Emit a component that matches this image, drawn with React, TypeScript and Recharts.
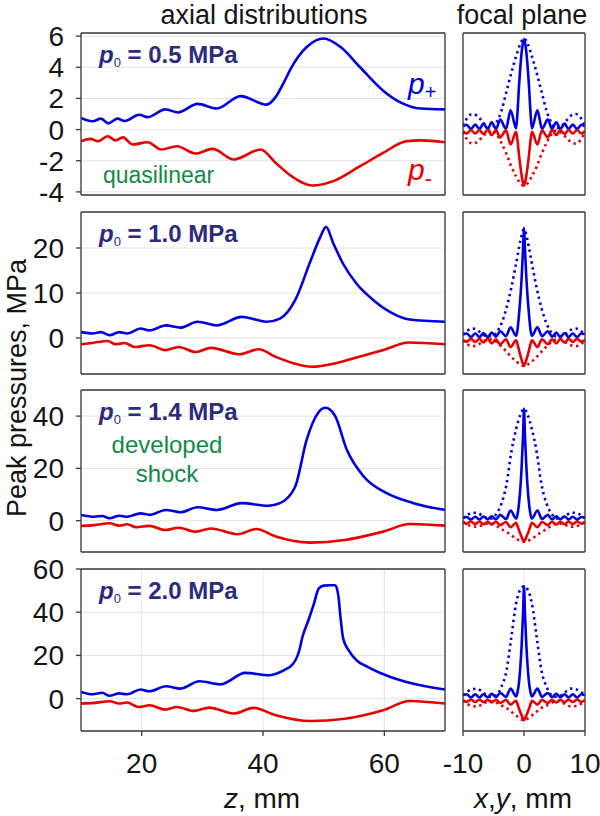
import React from "react";
import { LineChart, Line, XAxis, YAxis, CartesianGrid } from "recharts";

// ---------- labels ----------
const pressureLabels = ["0.5", "1.0", "1.4", "2.0"];
const axialTicks = [20, 40, 60];
const focalTicks = [-10, 0, 10];
const yTicksByRow = [
  [-4, -2, 0, 2, 4, 6],
  [0, 10, 20],
  [0, 20, 40],
  [0, 20, 40, 60],
];
const yDomainByRow: [number, number][] = [
  [-4.2, 6.2],
  [-8, 28],
  [-12, 50],
  [-15, 60],
];

// ---------- axial distributions (z, mm) ----------
const z1Blue = [10, 11.9, 13.3, 14.5, 16, 17.2, 19.6, 21, 23.9, 26, 29.2, 32.4, 36.3, 40.6, 42.1, 43.4, 44.7, 47.2, 50, 52.8, 56, 59.8, 62.9, 66, 70];
const p1Blue = [0.75, 0.53, 0.7, 0.4, 0.7, 0.55, 0.95, 0.8, 1.3, 1.1, 1.65, 1.35, 2.15, 1.6, 2.1, 3.0, 4.0, 5.3, 5.85, 5.3, 4.0, 2.5, 1.7, 1.35, 1.3];
const z1Red = [10, 11.6, 12.8, 14.4, 15.7, 16.9, 18.5, 21, 23.2, 25.8, 28.9, 31.7, 35.2, 39.6, 42.1, 44.7, 48.1, 51.6, 56, 59.8, 63.6, 66.1, 70];
const p1Red = [-0.75, -0.6, -0.75, -0.43, -0.7, -0.5, -0.96, -0.81, -1.28, -1.07, -1.54, -1.24, -1.92, -1.28, -2.14, -2.99, -3.59, -3.31, -2.35, -1.5, -0.75, -0.69, -0.81];

const z2Blue = [10, 11.9, 13.3, 14.7, 16.3, 17.6, 19.8, 21.3, 24, 26.4, 29.2, 32.4, 36.5, 40.6, 42.8, 45.3, 47.8, 49.4, 50.4, 51.6, 53.2, 55.4, 58.2, 60.9, 64.2, 70];
const p2Blue = [1.3, 1.0, 1.3, 0.6, 1.3, 1.0, 2.1, 1.7, 2.8, 2.3, 3.6, 2.8, 4.7, 3.6, 4.3, 8.4, 17.0, 22.3, 24.7, 21.0, 16.5, 12.1, 8.4, 5.8, 4.1, 3.6];
const z2Red = [10, 11.9, 14.4, 15.7, 17.2, 18.8, 21.3, 23.9, 26.1, 28.9, 31.4, 36.1, 39.3, 42.1, 45, 48.1, 52, 56, 60, 64, 70];
const p2Red = [-1.4, -1.1, -0.65, -1.4, -1.1, -2.0, -1.6, -2.7, -2.0, -3.1, -2.2, -3.6, -2.5, -4.2, -5.6, -6.4, -5.6, -4.1, -2.6, -1.0, -1.4];

const z3Blue = [10, 12.2, 13.5, 14.7, 16.3, 17.6, 19.8, 21.3, 24, 26.4, 29.2, 32.4, 36.5, 40.9, 42.8, 45.3, 47.2, 49.1, 50.3, 51.9, 53.8, 56.6, 60.4, 64.8, 70];
const p3Blue = [2.2, 1.5, 1.8, 0.9, 1.9, 1.5, 2.8, 2.2, 4.1, 3.2, 5.1, 4.1, 6.7, 5.7, 6.7, 13, 31, 41.3, 43.2, 40, 27.2, 16.9, 10.5, 6.7, 4.1];
const z3Red = [10, 12.2, 14.7, 16.3, 17.6, 19.1, 21.3, 23.9, 26.1, 28.9, 31.4, 35.8, 38.9, 42.1, 47.8, 53.5, 59.8, 64.2, 70];
const p3Red = [-2.0, -1.7, -1.0, -1.9, -1.4, -2.5, -2.0, -3.6, -2.7, -4.2, -3.0, -5.2, -3.2, -6.1, -8.4, -7.4, -4.2, -1.3, -1.9];

const z4Blue = [10, 11.9, 13.5, 14.7, 16.3, 17.6, 19.8, 21.3, 24, 26.4, 29.5, 33, 37.1, 40.9, 43.4, 45, 46, 46.5, 47.5, 48.4, 49.2, 50, 51, 51.9, 52.4, 52.8, 53.2, 54.1, 55.5, 57.3, 61, 64.8, 70];
const p4Blue = [3.1, 2.0, 2.7, 1.3, 2.4, 2.0, 4.2, 3.4, 5.7, 4.6, 8.0, 6.6, 11.9, 10.8, 13.1, 16.2, 22.5, 28.5, 36.4, 44, 51, 52.3, 52.5, 52.5, 48, 37, 28, 22.4, 17.5, 14.6, 10, 6.9, 4.2];
const z4Red = [10, 12.2, 14.7, 16.3, 17.6, 19.5, 21.3, 23.9, 25.8, 28.6, 31.1, 35.2, 38.4, 42.1, 47.8, 53.5, 59.8, 64.2, 70];
const p4Red = [-2.3, -2.0, -1.2, -2.3, -1.8, -3.9, -3.1, -5.1, -3.9, -5.7, -4.2, -6.9, -4.3, -7.7, -10.4, -9.3, -5.4, -1.1, -2.3];

// ---------- focal plane (x,y, mm) ----------
const xSolid = [-10, -9.4, -8.7, -8, -7.3, -6.65, -5.95, -5.3, -4.6, -3.9, -2.95, -2.2, -1.3, -1.1, -0.8, -0.4, -0.15, 0, 0.15, 0.4, 0.8, 1.1, 1.3, 2.2, 2.95, 3.9, 4.6, 5.3, 5.95, 6.65, 7.3, 8, 8.7, 9.4, 10];
const f1SolidBlue = [0.2, 0.3, 0.04, 0.32, 0.04, 0.38, 0.04, 0.47, 0.04, 0.64, 0.05, 1.24, 0.08, 0.9, 2.9, 4.9, 5.6, 5.8, 5.6, 4.9, 2.9, 0.9, 0.08, 1.24, 0.05, 0.64, 0.04, 0.47, 0.04, 0.38, 0.04, 0.32, 0.04, 0.3, 0.2];
const f1SolidRed = [-0.1, -0.25, -0.03, -0.25, -0.03, -0.28, -0.03, -0.35, -0.03, -0.5, -0.05, -0.96, -0.15, -0.6, -1.7, -2.9, -3.45, -3.6, -3.45, -2.9, -1.7, -0.6, -0.15, -0.96, -0.05, -0.5, -0.03, -0.35, -0.03, -0.28, -0.03, -0.25, -0.03, -0.25, -0.1];
const f2SolidBlue = [0.8, 1.0, 0.2, 1.0, 0.2, 1.1, 0.2, 1.2, 0.3, 1.5, 0.4, 2.4, 0.5, 1.5, 5.5, 13, 20, 24.5, 20, 13, 5.5, 1.5, 0.5, 2.4, 0.4, 1.5, 0.3, 1.2, 0.2, 1.1, 0.2, 1.0, 0.2, 1.0, 0.8];
const f2SolidRed = [-0.5, -0.8, -0.2, -0.9, -0.2, -1.0, -0.2, -1.2, -0.3, -1.4, -0.3, -2.0, -0.5, -1.2, -2.8, -4.8, -5.8, -6.2, -5.8, -4.8, -2.8, -1.2, -0.5, -2.0, -0.3, -1.4, -0.3, -1.2, -0.2, -1.0, -0.2, -0.9, -0.2, -0.8, -0.5];
const f3SolidBlue = [1.0, 1.4, 0.4, 1.5, 0.4, 1.6, 0.5, 1.7, 0.5, 2.2, 0.6, 3.9, 0.8, 2.0, 7, 20, 33, 42.8, 33, 20, 7, 2.0, 0.8, 3.9, 0.6, 2.2, 0.5, 1.7, 0.5, 1.6, 0.4, 1.5, 0.4, 1.4, 1.0];
const f3SolidRed = [-0.6, -1.2, -0.3, -1.3, -0.3, -1.4, -0.4, -1.5, -0.4, -1.7, -0.5, -2.5, -0.8, -1.8, -3.8, -6.2, -7.5, -8.1, -7.5, -6.2, -3.8, -1.8, -0.8, -2.5, -0.5, -1.7, -0.4, -1.5, -0.4, -1.4, -0.3, -1.3, -0.3, -1.2, -0.6];
const f4SolidBlue = [1.5, 2.0, 0.5, 2.0, 0.5, 2.0, 0.6, 2.2, 0.7, 2.6, 0.8, 4.6, 1.0, 2.5, 8, 24, 40, 52, 40, 24, 8, 2.5, 1.0, 4.6, 0.8, 2.6, 0.7, 2.2, 0.6, 2.0, 0.5, 2.0, 0.5, 2.0, 1.5];
const f4SolidRed = [-0.8, -1.5, -0.4, -1.6, -0.4, -1.7, -0.5, -1.8, -0.5, -2.0, -0.6, -2.8, -1.0, -2.3, -4.8, -7.6, -9.3, -10, -9.3, -7.6, -4.8, -2.3, -1.0, -2.8, -0.6, -2.0, -0.5, -1.8, -0.5, -1.7, -0.4, -1.6, -0.4, -1.5, -0.8];

const xDotted = [-10, -9.3, -8.5, -7.7, -6.9, -6.1, -5.3, -4.5, -3.7, -2.9, -2.1, -1.3, -0.6, 0, 0.6, 1.3, 2.1, 2.9, 3.7, 4.5, 5.3, 6.1, 6.9, 7.7, 8.5, 9.3, 10];
const f1DotBlue = [0.25, 0.75, 1.0, 0.9, 0.55, 0.2, 0.1, 0.45, 1.2, 2.4, 3.6, 4.7, 5.5, 5.85, 5.5, 4.7, 3.6, 2.4, 1.2, 0.45, 0.1, 0.2, 0.55, 0.9, 1.0, 0.75, 0.25];
const f1DotRed = [-0.15, -0.65, -0.9, -0.8, -0.5, -0.2, -0.05, -0.3, -0.85, -1.55, -2.35, -3.0, -3.45, -3.6, -3.45, -3.0, -2.35, -1.55, -0.85, -0.3, -0.05, -0.2, -0.5, -0.8, -0.9, -0.65, -0.15];
const f2DotBlue = [0.7, 1.6, 2.1, 1.8, 1.0, 0.4, 0.4, 1.2, 3.2, 6.5, 11, 16.5, 21.5, 24.2, 21.5, 16.5, 11, 6.5, 3.2, 1.2, 0.4, 0.4, 1.0, 1.8, 2.1, 1.6, 0.7];
const f2DotRed = [-0.5, -1.4, -1.8, -1.6, -1.0, -0.4, -0.3, -0.9, -1.9, -3.0, -4.2, -5.2, -5.9, -6.2, -5.9, -5.2, -4.2, -3.0, -1.9, -0.9, -0.3, -0.4, -1.0, -1.6, -1.8, -1.4, -0.5];
const f3DotBlue = [1.0, 2.2, 3.0, 3.0, 2.0, 1.0, 0.8, 2.7, 6.5, 13.5, 26, 35, 40.5, 42.8, 40.5, 35, 26, 13.5, 6.5, 2.7, 0.8, 1.0, 2.0, 3.0, 3.0, 2.2, 1.0];
const f3DotRed = [-0.4, -1.4, -2.2, -2.3, -1.8, -1.2, -1.2, -2.0, -3.2, -4.3, -5.6, -6.9, -7.8, -8.1, -7.8, -6.9, -5.6, -4.3, -3.2, -2.0, -1.2, -1.2, -1.8, -2.3, -2.2, -1.4, -0.4];
const f4DotBlue = [1.5, 3.2, 4.3, 4.6, 3.3, 1.5, 0.8, 1.6, 5.5, 12.5, 28, 44, 50.5, 52, 50.5, 44, 28, 12.5, 5.5, 1.6, 0.8, 1.5, 3.3, 4.6, 4.3, 3.2, 1.5];
const f4DotRed = [-0.8, -2.5, -3.4, -3.6, -2.8, -1.6, -1.2, -2.0, -3.2, -4.3, -6.0, -7.8, -9.3, -10, -9.3, -7.8, -6.0, -4.3, -3.2, -2.0, -1.2, -1.6, -2.8, -3.6, -3.4, -2.5, -0.8];

// ---------- styling ----------
const BLUE = "#0000E2";
const RED = "#E80000";
const NAVY = "#2C2B7C";
const GREEN = "#118A45";
const AXIS = "#3a3a3a";
const FONT = "'Liberation Sans', Arial, Helvetica, sans-serif";

const ROW_TOPS = [33, 212, 390, 569];
const PLOT_H = 162;
const LEFT_X = 81;
const LEFT_W = 364;
const RIGHT_X = 463;
const RIGHT_W = 122;
const PAD_V = 16; // extra room so edge tick labels are not clipped

type Series = { key: string; x: number[]; y: number[]; color: string; dotted?: boolean };

function buildRows(series: Series[]) {
  const map = new Map<number, any>();
  series.forEach((s) => {
    s.x.forEach((xv, i) => {
      const row = map.get(xv) || { x: xv };
      row[s.key] = s.y[i];
      map.set(xv, row);
    });
  });
  const rows = Array.from(map.values()).sort((a, b) => a.x - b.x);
  rows.forEach((r) => series.forEach((s) => { if (r[s.key] === undefined) r[s.key] = null; }));
  return rows;
}

const tickStyle = { fontSize: 28, fill: "#151515", fontFamily: FONT };
const axisLineStyle = { stroke: AXIS, strokeWidth: 1.3 };

function Panel(props: {
  plotX: number; plotY: number; plotW: number; padL: number; padR: number;
  xDomain: [number, number]; xTicks: number[]; yDomain: [number, number]; yTicks: number[];
  series: Series[]; showY: boolean; showX: boolean;
}) {
  const { plotX, plotY, plotW, padL, padR, xDomain, xTicks, yDomain, yTicks, series, showY, showX } = props;
  const bottomH = showX ? 60 : 6;
  const bottomM = showX ? 0 : PAD_V;
  const W = padL + plotW + padR;
  const H = PAD_V + 6 + PLOT_H + bottomH + bottomM;
  const rows = buildRows(series);
  return (
    <div style={{ position: "absolute", left: plotX - padL, top: plotY - 6 - PAD_V }}>
      <LineChart width={W} height={H} data={rows} margin={{ top: PAD_V, right: 0, bottom: bottomM, left: 0 }}>
        <CartesianGrid xAxisId="b" yAxisId="l" stroke="#e4e4e4" strokeWidth={1} />
        <XAxis xAxisId="b" dataKey="x" type="number" domain={xDomain} ticks={xTicks} allowDataOverflow
          orientation="bottom" height={bottomH} tickSize={5} tickMargin={17} interval={0}
          tick={showX ? tickStyle : false} axisLine={axisLineStyle} tickLine={axisLineStyle} />
        <XAxis xAxisId="t" dataKey="x" type="number" domain={xDomain} ticks={xTicks} allowDataOverflow
          orientation="top" height={6} tickSize={5} interval={0}
          tick={false} axisLine={axisLineStyle} tickLine={axisLineStyle} />
        <YAxis yAxisId="l" type="number" domain={yDomain} ticks={yTicks} allowDataOverflow
          orientation="left" width={padL} tickSize={5} tickMargin={12} interval={0}
          tick={showY ? tickStyle : false} axisLine={axisLineStyle} tickLine={axisLineStyle} />
        <YAxis yAxisId="r" type="number" domain={yDomain} ticks={yTicks} allowDataOverflow
          orientation="right" width={padR} tickSize={5} interval={0}
          tick={false} axisLine={axisLineStyle} tickLine={axisLineStyle} />
        {series.map((s) => (
          <Line key={s.key} xAxisId="b" yAxisId="l" dataKey={s.key} type="monotone"
            stroke={s.color} strokeWidth={2.6} strokeDasharray={s.dotted ? "2.4 3.6" : undefined}
            dot={false} activeDot={false} connectNulls isAnimationActive={false} />
        ))}
      </LineChart>
    </div>
  );
}

const axialSeries: Series[][] = [
  [{ key: "pp", x: z1Blue, y: p1Blue, color: BLUE }, { key: "pm", x: z1Red, y: p1Red, color: RED }],
  [{ key: "pp", x: z2Blue, y: p2Blue, color: BLUE }, { key: "pm", x: z2Red, y: p2Red, color: RED }],
  [{ key: "pp", x: z3Blue, y: p3Blue, color: BLUE }, { key: "pm", x: z3Red, y: p3Red, color: RED }],
  [{ key: "pp", x: z4Blue, y: p4Blue, color: BLUE }, { key: "pm", x: z4Red, y: p4Red, color: RED }],
];

const focalSeries: Series[][] = [
  [f1DotBlue, f1DotRed, f1SolidBlue, f1SolidRed],
  [f2DotBlue, f2DotRed, f2SolidBlue, f2SolidRed],
  [f3DotBlue, f3DotRed, f3SolidBlue, f3SolidRed],
  [f4DotBlue, f4DotRed, f4SolidBlue, f4SolidRed],
].map(([db, dr, sb, sr]) => [
  { key: "db", x: xDotted, y: db, color: BLUE, dotted: true },
  { key: "dr", x: xDotted, y: dr, color: RED, dotted: true },
  { key: "sb", x: xSolid, y: sb, color: BLUE },
  { key: "sr", x: xSolid, y: sr, color: RED },
]);

export default function App() {
  return (
    <div style={{ position: "absolute", left: 0, top: 0, width: 600, height: 816, overflow: "hidden", background: "#fff", fontFamily: FONT }}>
      {ROW_TOPS.map((top, i) => (
        <React.Fragment key={i}>
          <Panel plotX={LEFT_X} plotY={top} plotW={LEFT_W} padL={81} padR={6}
            xDomain={[10, 70]} xTicks={axialTicks} yDomain={yDomainByRow[i]} yTicks={yTicksByRow[i]}
            series={axialSeries[i]} showY showX={i === 3} />
          <Panel plotX={RIGHT_X} plotY={top} plotW={RIGHT_W} padL={30} padR={15}
            xDomain={[-10, 10]} xTicks={focalTicks} yDomain={yDomainByRow[i]} yTicks={yTicksByRow[i]}
            series={focalSeries[i]} showY={false} showX={i === 3} />
        </React.Fragment>
      ))}
      <svg width={600} height={816} style={{ position: "absolute", left: 0, top: 0, pointerEvents: "none" }} fontFamily={FONT}>
        <text x={264} y={24} fontSize={27} textAnchor="middle" fill="#151515">axial distributions</text>
        <text x={522} y={24} fontSize={27} textAnchor="middle" fill="#151515">focal plane</text>
        <text transform="translate(26,388) rotate(-90)" fontSize={27} textAnchor="middle" fill="#151515">Peak pressures, MPa</text>
        <text x={262} y={808} fontSize={28} textAnchor="middle" fill="#151515">
          <tspan fontStyle="italic">z</tspan>{", mm"}
        </text>
        <text x={523} y={808} fontSize={28} textAnchor="middle" fill="#151515">
          <tspan fontStyle="italic">x</tspan>{","}<tspan fontStyle="italic">y</tspan>{", mm"}
        </text>
        {ROW_TOPS.map((top, i) => (
          <text key={i} x={99} y={top + 30} fontSize={24} fontWeight="bold" fill={NAVY}>
            <tspan fontStyle="italic">p</tspan>
            <tspan fontSize={13} fontWeight="normal" dy={4}>0</tspan>
            <tspan dy={-4}>{" = " + pressureLabels[i] + " MPa"}</tspan>
          </text>
        ))}
        <text x={408} y={94} fontSize={30} fill={BLUE}>
          <tspan fontStyle="italic">p</tspan><tspan fontSize={20} dy={5}>+</tspan>
        </text>
        <text x={408} y={180} fontSize={30} fill={RED}>
          <tspan fontStyle="italic">p</tspan><tspan fontSize={22} dy={6}>-</tspan>
        </text>
        <text x={103} y={183} fontSize={23} fill={GREEN}>quasilinear</text>
        <text x={167} y={453} fontSize={24} fill={GREEN} textAnchor="middle">developed</text>
        <text x={167} y={482} fontSize={24} fill={GREEN} textAnchor="middle">shock</text>
      </svg>
    </div>
  );
}
